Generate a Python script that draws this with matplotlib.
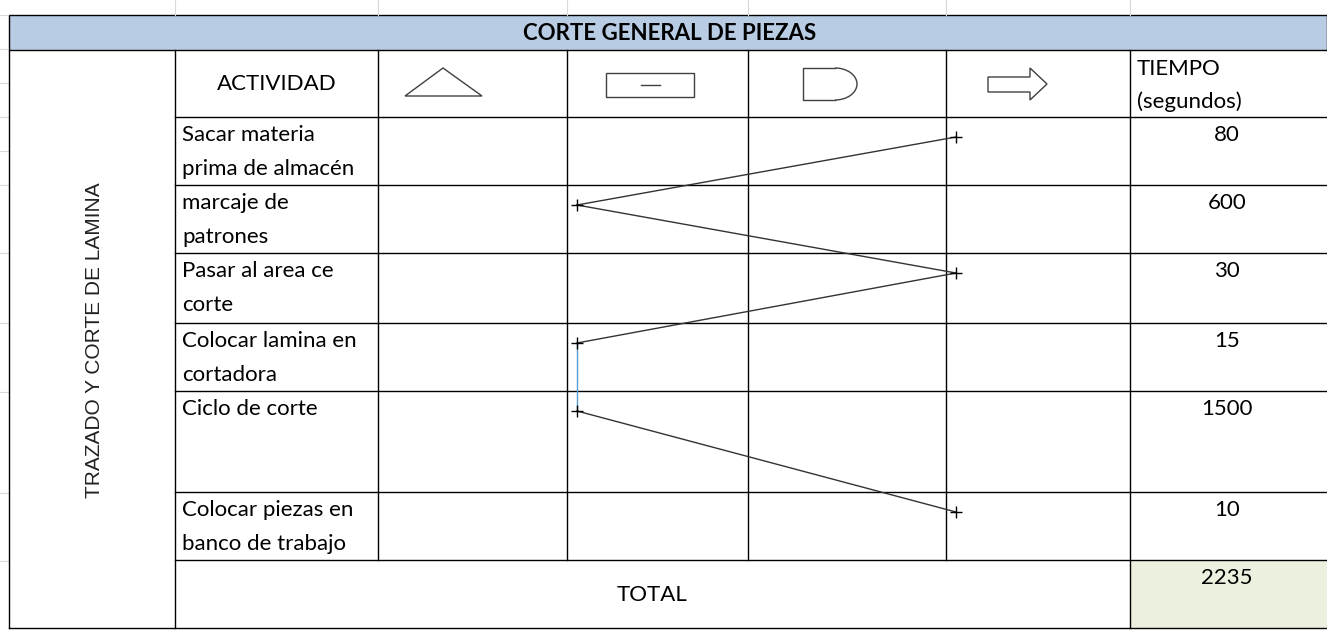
import numpy as np
import matplotlib
matplotlib.use('Agg')
import matplotlib.pyplot as plt
from matplotlib.patches import Rectangle, Polygon, Arc

titulo = 'CORTE GENERAL DE PIEZAS'
etiqueta_lado = 'TRAZADO Y CORTE DE LAMINA'
actividades = ['Sacar materia\nprima de almacén', 'marcaje de\npatrones', 'Pasar al area ce\ncorte',
               'Colocar lamina en\ncortadora', 'Ciclo de corte', 'Colocar piezas en\nbanco de trabajo']
tiempos = [80, 600, 30, 15, 1500, 10]
# 0 triangulo, 1 rectangulo, 2 demora, 3 flecha
simbolo = [3, 1, 3, 1, 1, 3]

W, H = 1327, 630
fig = plt.figure(figsize=(W / 100, H / 100), dpi=100)
ax = fig.add_axes([0, 0, 1, 1])
ax.set_xlim(0, W)
ax.set_ylim(H, 0)
ax.axis('off')

fnt = 'Lato'
fs = 16
k = 'black'
lw = 1.0

cols = [175, 378, 567, 748, 946, 1130, W]
rows = [50, 117, 185, 253, 323, 391, 492, 560, 628]

# rejilla de fondo de la hoja
for x in cols[:-1]:
    ax.plot([x, x], [0, 15], color='#d9d9d9', lw=0.8)
for y in [15, 49, 83, 117, 151, 185, 253, 323, 392, 493, 561]:
    ax.plot([0, 8], [y, y], color='#d9d9d9', lw=0.8)

# titulo
ax.add_patch(Rectangle((9, 15), W - 9, 35, facecolor='#b8cce4', edgecolor=k, lw=lw))
ax.text(670, 33, titulo, ha='center', va='center', fontsize=fs, fontweight='bold', family=fnt)

# celda total
ax.add_patch(Rectangle((cols[5], rows[7]), W - cols[5], rows[8] - rows[7], facecolor='#ebf1de', edgecolor='none'))

# bordes
ax.plot([9, 9], [50, 628], color=k, lw=lw)
ax.plot([9, W], [628, 628], color=k, lw=lw)
for x in [cols[0], cols[5]]:
    ax.plot([x, x], [rows[0], rows[-1]], color=k, lw=lw)
for x in cols[1:5]:
    ax.plot([x, x], [rows[0], rows[7]], color=k, lw=lw)
for y in rows[1:-1]:
    ax.plot([cols[0], W], [y, y], color=k, lw=lw)

# encabezado
ax.text((cols[0] + cols[1]) / 2, 84, 'ACTIVIDAD', ha='center', va='center', fontsize=fs, family=fnt)
ax.text(1137, 69, 'TIEMPO', ha='left', va='center', fontsize=fs, family=fnt)
ax.text(1137, 102, '(segundos)', ha='left', va='center', fontsize=fs, family=fnt)

sc = '#404040'
ax.add_patch(Polygon([[405, 96], [482, 96], [443, 68]], closed=True, fill=False, edgecolor=sc, lw=1))
ax.add_patch(Rectangle((606, 73), 88, 24, fill=False, edgecolor=sc, lw=1))
ax.plot([641, 660], [85, 85], color=sc, lw=1)
ax.plot([835, 803, 803, 835], [68, 68, 100, 100], color=sc, lw=1)
ax.add_patch(Arc((835, 84), 44, 32, theta1=-90, theta2=90, edgecolor=sc, lw=1))
ax.add_patch(Polygon([[988, 77], [1030, 77], [1030, 68], [1047, 84], [1030, 100], [1030, 92], [988, 92]],
                     closed=True, fill=False, edgecolor=sc, lw=1))

# filas
for i, (a, t) in enumerate(zip(actividades, tiempos)):
    top = rows[i + 1]
    for j, linea in enumerate(a.split('\n')):
        ax.text(182, top + 18 + 34 * j, linea, ha='left', va='center', fontsize=fs, family=fnt)
    ax.text(1227, top + 18, str(t), ha='center', va='center', fontsize=fs, family=fnt)

ax.text(95, 340, etiqueta_lado, rotation=90, ha='center', va='center', fontsize=15,
        family='Liberation Sans', color='#222222')

ax.text(652, 595, 'TOTAL', ha='center', va='center', fontsize=fs, family=fnt)
ax.text(1227, 578, str(sum(tiempos)), ha='center', va='center', fontsize=fs, family=fnt)

# recorrido
px = [cols[1 + s] + 10 for s in simbolo]
py = [rows[i + 1] + 20 for i in range(len(simbolo))]
for i in range(len(px) - 1):
    c = '#5b9bd5' if px[i] == px[i + 1] else '#333333'
    ax.plot(px[i:i + 2], py[i:i + 2], color=c, lw=1)
ax.plot(px, py, ls='none', marker='+', ms=9, mew=1, color='black')

fig.savefig('out.png', dpi=100)
